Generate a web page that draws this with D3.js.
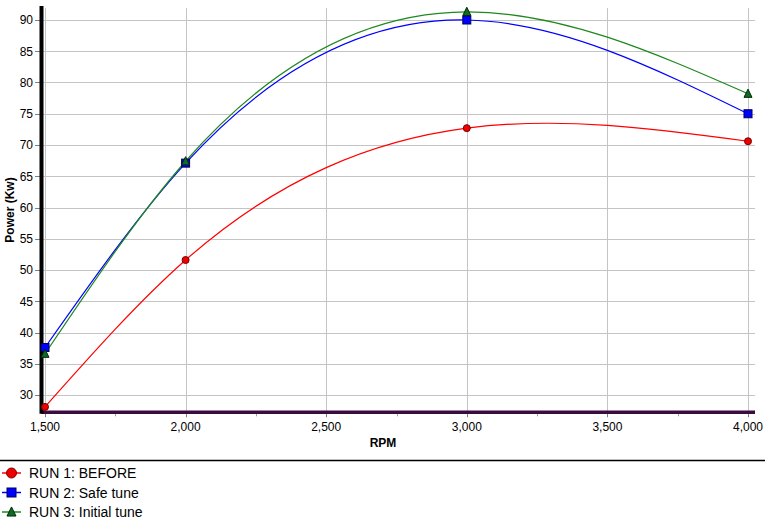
<!DOCTYPE html>
<html>
<head>
<meta charset="utf-8">
<script src="https://cdn.jsdelivr.net/npm/d3@7"></script>
<style>
  html, body { margin: 0; padding: 0; background: #fff; }
  svg { display: block; font-family: "Liberation Sans", Arial, sans-serif; }
</style>
</head>
<body>
<svg id="chart" width="765" height="521"></svg>
<script>
// ---- data ----
const rpm = [1500, 2000, 3000, 4000];
const run1 = [28.1, 51.6, 72.7, 70.6];
const run2 = [37.6, 67.1, 90.0, 75.0];
const run3 = [36.6, 67.4, 91.3, 78.2];
const seriesNames = ["RUN 1: BEFORE", "RUN 2: Safe tune", "RUN 3: Initial tune"];
const xTicks = [1500, 2000, 2500, 3000, 3500, 4000];
const xMinorTicks = [1750, 2250, 2750, 3250, 3750];
const yTicks = [30, 35, 40, 45, 50, 55, 60, 65, 70, 75, 80, 85, 90];

const series = [
  { name: seriesNames[0], values: run1, color: "#ff0000", marker: "circle", fill: "#ee0000", stroke: "#7a0000" },
  { name: seriesNames[1], values: run2, color: "#0000ff", marker: "square", fill: "#0000ff", stroke: "#00005a" },
  { name: seriesNames[2], values: run3, color: "#1e881e", marker: "triangle", fill: "#0d6a2a", stroke: "#002a00" }
];

// natural cubic spline in x (y as a function of x), as a d3 curve factory
function curveNaturalX(context) {
  let xs, ys;
  return {
    areaStart() {}, areaEnd() {},
    lineStart() { xs = []; ys = []; },
    point(px, py) { xs.push(+px); ys.push(+py); },
    lineEnd() {
      const n = xs.length;
      if (!n) return;
      context.moveTo(xs[0], ys[0]);
      if (n < 3) { for (let i = 1; i < n; i++) context.lineTo(xs[i], ys[i]); return; }
      const h = [], M = new Array(n).fill(0);
      for (let i = 0; i < n - 1; i++) h.push(xs[i + 1] - xs[i]);
      // tridiagonal system for interior second derivatives
      const a = [], b = [], c = [], r = [];
      for (let i = 1; i < n - 1; i++) {
        a.push(h[i - 1]); b.push(2 * (h[i - 1] + h[i])); c.push(h[i]);
        r.push(6 * ((ys[i + 1] - ys[i]) / h[i] - (ys[i] - ys[i - 1]) / h[i - 1]));
      }
      const m = r.length;
      for (let i = 1; i < m; i++) {
        const w = a[i] / b[i - 1];
        b[i] -= w * c[i - 1]; r[i] -= w * r[i - 1];
      }
      const sol = new Array(m);
      sol[m - 1] = r[m - 1] / b[m - 1];
      for (let i = m - 2; i >= 0; i--) sol[i] = (r[i] - c[i] * sol[i + 1]) / b[i];
      for (let i = 0; i < m; i++) M[i + 1] = sol[i];
      for (let i = 0; i < n - 1; i++) {
        const hi = h[i], s = (ys[i + 1] - ys[i]) / hi;
        const d0 = s - hi * (2 * M[i] + M[i + 1]) / 6;
        const d1 = s + hi * (M[i] + 2 * M[i + 1]) / 6;
        context.bezierCurveTo(xs[i] + hi / 3, ys[i] + d0 * hi / 3,
                              xs[i + 1] - hi / 3, ys[i + 1] - d1 * hi / 3,
                              xs[i + 1], ys[i + 1]);
      }
    }
  };
}

const svg = d3.select("#chart");
const x = d3.scaleLinear().domain([1500, 4000]).range([45, 748]);
const y = d3.scaleLinear().domain([30, 90]).range([395, 20]);

const axisX = 41.5, axisBottom = 412.3, plotRight = 755, plotTop = 6;

// gridlines
const grid = svg.append("g").attr("stroke", "#c4c4c4").attr("stroke-width", 1);
grid.selectAll("line.h").data(yTicks).join("line")
  .attr("x1", axisX).attr("x2", plotRight)
  .attr("y1", d => Math.round(y(d)) + 0.5).attr("y2", d => Math.round(y(d)) + 0.5);
grid.selectAll("line.v").data(xTicks).join("line")
  .attr("y1", 8).attr("y2", axisBottom)
  .attr("x1", d => Math.round(x(d)) + 0.5).attr("x2", d => Math.round(x(d)) + 0.5);

// y axis ticks and labels
const yAxisG = svg.append("g");
yAxisG.selectAll("line").data(yTicks).join("line")
  .attr("x1", 35).attr("x2", axisX)
  .attr("y1", d => Math.round(y(d)) + 0.5).attr("y2", d => Math.round(y(d)) + 0.5)
  .attr("stroke", "#808080");
yAxisG.selectAll("text").data(yTicks).join("text")
  .attr("x", 33).attr("y", d => y(d)).attr("dy", "0.36em")
  .attr("text-anchor", "end").attr("font-size", 12).attr("fill", "#000")
  .text(d => d3.format(",")(d));

// x axis ticks and labels
const xAxisG = svg.append("g");
xAxisG.selectAll("line.maj").data(xTicks).join("line")
  .attr("x1", d => Math.round(x(d)) + 0.5).attr("x2", d => Math.round(x(d)) + 0.5)
  .attr("y1", axisBottom).attr("y2", axisBottom + 5).attr("stroke", "#808080");
xAxisG.selectAll("line.min").data(xMinorTicks).join("line")
  .attr("x1", d => Math.round(x(d)) + 0.5).attr("x2", d => Math.round(x(d)) + 0.5)
  .attr("y1", axisBottom).attr("y2", axisBottom + 4).attr("stroke", "#a0a0a0");
xAxisG.selectAll("text").data(xTicks).join("text")
  .attr("x", d => x(d)).attr("y", 431)
  .attr("text-anchor", "middle").attr("font-size", 12).attr("fill", "#000")
  .text(d => d3.format(",")(d));

// axis lines
svg.append("line").attr("x1", axisX).attr("x2", plotRight)
  .attr("y1", axisBottom).attr("y2", axisBottom)
  .attr("stroke", "#3c0a3c").attr("stroke-width", 3.5);
svg.append("line").attr("x1", axisX).attr("x2", axisX)
  .attr("y1", plotTop).attr("y2", axisBottom + 1.5)
  .attr("stroke", "#000").attr("stroke-width", 4);

// axis titles
svg.append("text").attr("x", 383).attr("y", 447).attr("text-anchor", "middle")
  .attr("font-size", 12).attr("font-weight", "bold").text("RPM");
svg.append("text").attr("transform", "translate(14,210) rotate(-90)")
  .attr("text-anchor", "middle").attr("font-size", 12).attr("font-weight", "bold")
  .text("Power (Kw)");

// lines
const line = d3.line().x(d => x(d[0])).y(d => y(d[1])).curve(curveNaturalX);
series.forEach(s => {
  const pts = rpm.map((r, i) => [r, s.values[i]]);
  svg.append("path").datum(pts).attr("d", line)
    .attr("fill", "none").attr("stroke", s.color).attr("stroke-width", 1.2);
});

function drawMarker(g, type, cx, cy, size, fill, stroke) {
  if (type === "circle") {
    g.append("circle").attr("cx", cx).attr("cy", cy).attr("r", size / 2)
      .attr("fill", fill).attr("stroke", stroke).attr("stroke-width", 1);
  } else if (type === "square") {
    g.append("rect").attr("x", cx - size / 2).attr("y", cy - size / 2)
      .attr("width", size).attr("height", size)
      .attr("fill", fill).attr("stroke", stroke).attr("stroke-width", 1);
  } else {
    const h = size * 0.9;
    g.append("path").attr("d", `M${cx},${cy - h / 2 - 1}L${cx + size / 2},${cy + h / 2}L${cx - size / 2},${cy + h / 2}Z`)
      .attr("fill", fill).attr("stroke", stroke).attr("stroke-width", 1);
  }
}

// markers
series.forEach(s => {
  const g = svg.append("g");
  rpm.forEach((r, i) => drawMarker(g, s.marker, x(r), y(s.values[i]), s.marker === "circle" ? 7 : 8, s.fill, s.stroke));
});

// legend
svg.append("line").attr("x1", 0).attr("x2", 765).attr("y1", 460.5).attr("y2", 460.5)
  .attr("stroke", "#000").attr("stroke-width", 1.5);
const legendY = [473, 492.5, 512];
series.forEach((s, i) => {
  const g = svg.append("g");
  const cy = legendY[i];
  g.append("line").attr("x1", 2).attr("x2", 21).attr("y1", cy).attr("y2", cy)
    .attr("stroke", s.color).attr("stroke-width", 1.5);
  drawMarker(g, s.marker, 11.5, cy, s.marker === "circle" ? 10 : 9, s.fill, s.stroke);
  g.append("text").attr("x", 29).attr("y", cy).attr("dy", "0.36em")
    .attr("font-size", 14).attr("fill", "#000").text(s.name);
});
</script>
</body>
</html>
